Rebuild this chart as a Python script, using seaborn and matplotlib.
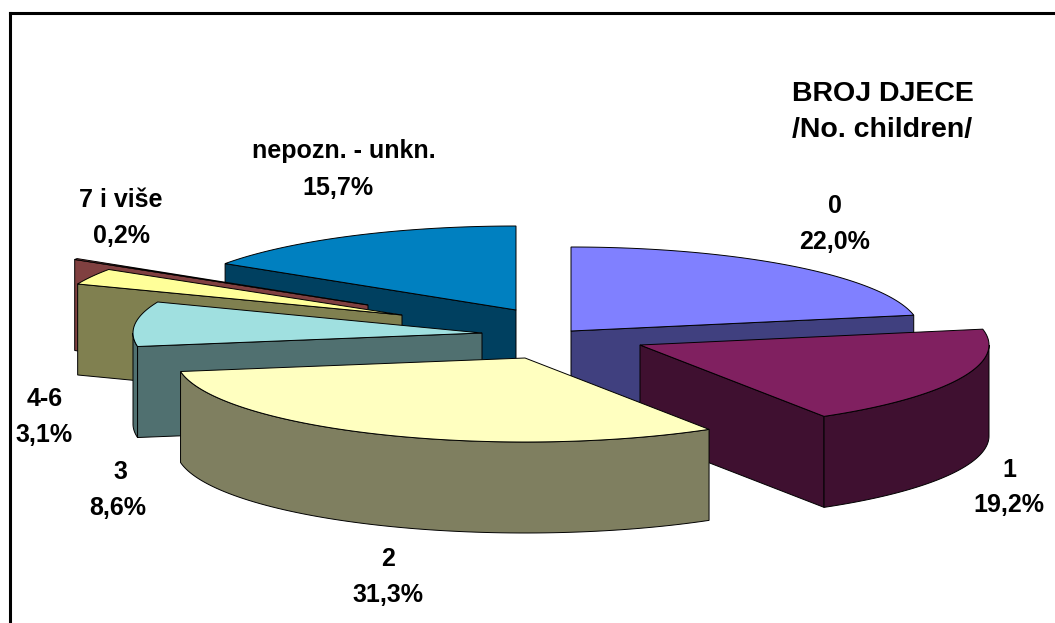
# plot.py
import numpy as np
import matplotlib
matplotlib.use('Agg')
import matplotlib.pyplot as plt
import seaborn as sns

# data
categories = ["0", "1", "2", "3", "4-6", "7 i više", "nepozn. - unkn."]
shares = [22.0, 19.2, 31.3, 8.6, 3.1, 0.2, 15.7]
pct_labels = ["22,0%", "19,2%", "31,3%", "8,6%", "3,1%", "0,2%", "15,7%"]

# colours
top_colors = ["#8080FF", "#802060", "#FFFFC0", "#A0E0E0", "#FFFF99", "#E07070", "#0080C0"]
wall_colors = ["#40407F", "#3F1030", "#7F7F60", "#507070", "#808050", "#804040", "#004060"]

# layout in pixels
RX, RY, DEPTH = 349, 84, 91
apex_x = [571, 640, 525, 482, 402, 368, 516]
apex_y = [331, 345, 358, 333, 315, 305, 310]
draw_order = [6, 5, 4, 3, 0, 1, 2]
name_pos = [(835, 206), (1009, 470), (388, 559), (120, 472), (45, 399), (121, 200), (344, 151)]
pct_pos = [(835, 242), (1009, 505), (388, 595), (118, 508), (44, 435), (121, 236), (338, 188)]

sns.set_theme(style="white")
plt.rcParams['font.family'] = ['Liberation Sans', 'DejaVu Sans']

W, H = 1055, 623
fig = plt.figure(figsize=(W / 100, H / 100), dpi=100)
ax = fig.add_axes([10 / W, 0, (W - 10) / W, (H - 13) / H])
ax.set_xlim(10, W)
ax.set_ylim(H, 13)
ax.set_xticks([])
ax.set_yticks([])
sns.despine(ax=ax, top=False, left=False, right=True, bottom=True)
for side in ['left', 'top']:
    ax.spines[side].set_color('black')
    ax.spines[side].set_linewidth(2.2)

# slice angles clockwise from north
edges = np.radians(np.concatenate([[0], np.cumsum(shares)]) / np.sum(shares) * 360)


def rim_point(i, theta):
    return apex_x[i] + RX * np.sin(theta), apex_y[i] - RY * np.cos(theta)


def draw_cut(i, theta):
    x, y = rim_point(i, theta)
    ax.fill([apex_x[i], x, x, apex_x[i]],
            [apex_y[i], y, y + DEPTH, apex_y[i] + DEPTH],
            facecolor=wall_colors[i], edgecolor='black', linewidth=0.7)


for i in draw_order:
    start, end = edges[i], edges[i + 1]

    # cut faces turned towards the viewer
    if np.sin(start) < 0:
        draw_cut(i, start)
    if np.sin(end) > 0:
        draw_cut(i, end)

    # outer rim, only the front half shows
    lo, hi = max(start, np.pi / 2), min(end, 3 * np.pi / 2)
    if lo < hi:
        t = np.linspace(lo, hi, 80)
        x, y = rim_point(i, t)
        ax.fill(np.r_[x, x[::-1]], np.r_[y, y[::-1] + DEPTH],
                facecolor=wall_colors[i], edgecolor='black', linewidth=0.7)

    # top face
    t = np.linspace(start, end, 120)
    x, y = rim_point(i, t)
    ax.fill(np.r_[apex_x[i], x], np.r_[apex_y[i], y],
            facecolor=top_colors[i], edgecolor='black', linewidth=0.7)

# labels
label_style = dict(ha='center', va='center', fontsize=18, fontweight='bold', color='black')
for i, name in enumerate(categories):
    ax.text(*name_pos[i], name, **label_style)
    ax.text(*pct_pos[i], pct_labels[i], **label_style)

ax.text(792, 94, "BROJ DJECE", ha='left', va='center', fontsize=20.5, fontweight='bold', color='black')
ax.text(792, 130, "/No. children/", ha='left', va='center', fontsize=20.5, fontweight='bold', color='black')

fig.savefig('out.png', dpi=100)
plt.close(fig)
